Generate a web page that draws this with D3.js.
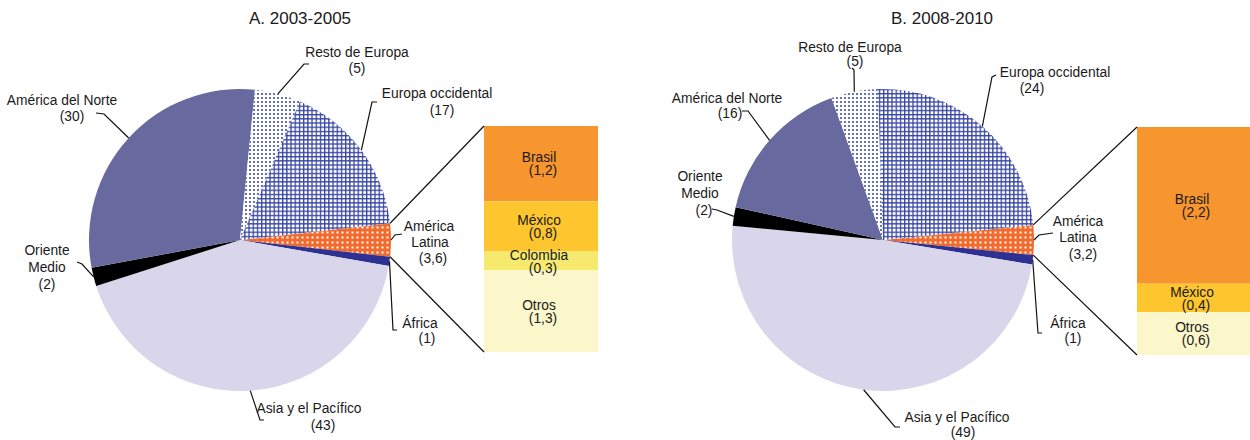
<!DOCTYPE html>
<html>
<head>
<meta charset="utf-8">
<script src="https://cdn.jsdelivr.net/npm/d3@7"></script>
<style>
  body { margin: 0; background: #fff; }
  svg text { font-family: "Liberation Sans", Arial, sans-serif; fill: #1a1a1a; }
</style>
</head>
<body>
<div id="viz"></div>
<script>
// regions, in drawing order (clockwise, starting with América Latina)
var regions = ["América Latina", "África", "Asia y el Pacífico", "Oriente Medio", "América del Norte", "Resto de Europa", "Europa occidental"];
var sharesA = [3.6, 1, 43, 2, 30, 5, 17];
var sharesB = [3.2, 1, 49, 2, 16, 5, 24];

// breakdown of América Latina
var latamA = ["Brasil", "México", "Colombia", "Otros"];
var latamValsA = [1.2, 0.8, 0.3, 1.3];
var latamB = ["Brasil", "México", "Otros"];
var latamValsB = [2.2, 0.4, 0.6];

var titles = ["A. 2003-2005", "B. 2008-2010"];

var fills = {
  "América Latina": "url(#latPat)",
  "África": "#2e3192",
  "Asia y el Pacífico": "#d9d6eb",
  "Oriente Medio": "#000000",
  "América del Norte": "#686a9f",
  "Resto de Europa": "url(#dotPat)",
  "Europa occidental": "url(#gridPat)"
};
var barColors = {"Brasil": "#f7952f", "México": "#fdc62f", "Colombia": "#f5ea6d", "Otros": "#fcf7cb"};

var fmt = function(v) { return "(" + String(v).replace(".", ",") + ")"; };

var width = 1250, height = 440;
var svg = d3.select("#viz").append("svg")
    .attr("width", width)
    .attr("height", height);

// patterns
var defs = svg.append("defs");
var p1 = defs.append("pattern").attr("id", "gridPat").attr("patternUnits", "userSpaceOnUse")
    .attr("width", 4.2).attr("height", 4.2);
p1.append("rect").attr("width", 4.2).attr("height", 4.2).attr("fill", "#fff");
p1.append("rect").attr("width", 1.3).attr("height", 4.2).attr("fill", "#3644a2");
p1.append("rect").attr("width", 4.2).attr("height", 1.3).attr("fill", "#3644a2");

var p2 = defs.append("pattern").attr("id", "dotPat").attr("patternUnits", "userSpaceOnUse")
    .attr("width", 4).attr("height", 4);
p2.append("rect").attr("width", 4).attr("height", 4).attr("fill", "#fff");
p2.append("circle").attr("cx", 2).attr("cy", 2).attr("r", 1.1).attr("fill", "#3c4fa8");

var p3 = defs.append("pattern").attr("id", "latPat").attr("patternUnits", "userSpaceOnUse")
    .attr("width", 5).attr("height", 5);
p3.append("rect").attr("width", 5).attr("height", 5).attr("fill", "#f26a2c");
p3.append("rect").attr("x", 1.5).attr("y", 1.5).attr("width", 2).attr("height", 2).attr("fill", "#fff");

// layout of each panel (label placement is by hand, as in the original)
var panels = [
  {
    title: titles[0], titleX: 300, cx: 240, cy: 240, r: 151, shares: sharesA,
    cats: latamA, vals: latamValsA, barX: 484, barW: 114, barTop: 126, barBot: 352,
    labels: {
      "América del Norte": {lines: [[62, 100], [72, 116]], hook: [[104, 114], [96, 113]]},
      "Resto de Europa": {lines: [[357, 52], [357, 68]], hook: [[304, 64], [309, 64]]},
      "Europa occidental": {lines: [[437, 93], [442, 110]], hook: [[372, 102], [377, 102]]},
      "América Latina": {lines: [[429, 226], [430, 242], [433, 258]], hook: [[395, 235], [402, 234]], split: true},
      "África": {lines: [[420, 323], [427, 338]], hook: [[393, 330], [397, 330]]},
      "Asia y el Pacífico": {lines: [[309, 408], [323, 425]], hook: [[260, 420], [264, 420]]},
      "Oriente Medio": {lines: [[47, 250], [47, 267], [47, 284]], hook: [[82, 264], [77, 262]], split: true}
    }
  },
  {
    title: titles[1], titleX: 942, cx: 883, cy: 240, r: 151, shares: sharesB,
    cats: latamB, vals: latamValsB, barX: 1137, barW: 114, barTop: 127, barBot: 355,
    labels: {
      "América del Norte": {lines: [[727, 98], [730, 113]], hook: [[748, 111], [742, 111]]},
      "Resto de Europa": {lines: [[850, 47], [855, 61]], hook: [[854, 70], [852, 68]]},
      "Europa occidental": {lines: [[1055, 72], [1032, 88]], hook: [[992, 77], [996, 75]]},
      "América Latina": {lines: [[1078, 221], [1078, 237], [1083, 254]], hook: [[1039, 235], [1053, 233]], split: true},
      "África": {lines: [[1068, 323], [1073, 338]], hook: [[1038, 333], [1042, 333]]},
      "Asia y el Pacífico": {lines: [[957, 417], [963, 432]], hook: [[895, 427], [900, 427]]},
      "Oriente Medio": {lines: [[700, 176], [700, 193], [704, 210]], hook: [[717, 210], [712, 209]], split: true}
    }
  }
];

panels.forEach(function(pn) {
  var data = regions.map(function(d, i) { return {name: d, value: pn.shares[i]}; });
  var total = d3.sum(pn.shares);
  // América Latina centred on 3 o'clock
  var half = Math.PI * pn.shares[0] / total;
  var pie = d3.pie().sort(null).value(function(d) { return d.value; })
      .startAngle(Math.PI / 2 - half).endAngle(Math.PI / 2 - half + 2 * Math.PI);
  var arcs = pie(data);
  var arc = d3.arc().innerRadius(0).outerRadius(pn.r);

  var g = svg.append("g").attr("transform", "translate(" + pn.cx + "," + pn.cy + ")");
  g.selectAll("path")
    .data(arcs)
    .enter().append("path")
      .attr("d", arc)
      .attr("fill", function(d) { return fills[d.data.name]; });

  var pt = function(a, rr) { return [pn.cx + rr * Math.sin(a), pn.cy - rr * Math.cos(a)]; };

  // leader lines and labels
  arcs.forEach(function(d) {
    var lb = pn.labels[d.data.name];
    var start = pt((d.startAngle + d.endAngle) / 2, pn.r);
    svg.append("path")
      .attr("d", d3.line()([start].concat(lb.hook)))
      .attr("fill", "none")
      .attr("stroke", "#111")
      .attr("stroke-width", 1.2);
    var words = lb.split ? d.data.name.split(" ") : [d.data.name];
    words.push(fmt(d.data.value));
    words.forEach(function(w, i) {
      svg.append("text")
        .attr("x", lb.lines[i][0])
        .attr("y", lb.lines[i][1])
        .attr("dy", "0.35em")
        .attr("text-anchor", "middle")
        .style("font-size", "13.8px")
        .text(w);
    });
  });

  // stacked bar with the América Latina breakdown
  var y = d3.scaleLinear().domain([0, d3.sum(pn.vals)]).range([pn.barTop, pn.barBot]);
  var stack = d3.cumsum(pn.vals);
  var segs = pn.cats.map(function(c, i) { return {name: c, value: pn.vals[i], y0: stack[i] - pn.vals[i], y1: stack[i]}; });

  var bar = svg.append("g");
  bar.selectAll("rect")
    .data(segs)
    .enter().append("rect")
      .attr("x", pn.barX)
      .attr("width", pn.barW)
      .attr("y", function(d) { return y(d.y0); })
      .attr("height", function(d) { return y(d.y1) - y(d.y0); })
      .attr("fill", function(d) { return barColors[d.name]; });

  segs.forEach(function(d) {
    var mid = (y(d.y0) + y(d.y1)) / 2;
    bar.append("text")
      .attr("x", pn.barX + pn.barW / 2 - 2).attr("y", mid - 6).attr("dy", "0.35em")
      .attr("text-anchor", "middle").style("font-size", "13.8px")
      .text(d.name);
    bar.append("text")
      .attr("x", pn.barX + pn.barW / 2 + 2).attr("y", mid + 7).attr("dy", "0.35em")
      .attr("text-anchor", "middle").style("font-size", "13.8px")
      .text(fmt(d.value));
  });

  // connector lines from the América Latina slice to the bar
  var lat = arcs[0];
  var a0 = pt(lat.startAngle, pn.r), a1 = pt(lat.endAngle, pn.r);
  svg.append("line").attr("x1", a0[0]).attr("y1", a0[1]).attr("x2", pn.barX).attr("y2", y.range()[0])
    .attr("stroke", "#111").attr("stroke-width", 1.2);
  svg.append("line").attr("x1", a1[0]).attr("y1", a1[1]).attr("x2", pn.barX).attr("y2", y.range()[1])
    .attr("stroke", "#111").attr("stroke-width", 1.2);

  svg.append("text")
    .attr("x", pn.titleX).attr("y", 18).attr("dy", "0.35em")
    .attr("text-anchor", "middle")
    .style("font-size", "17px")
    .text(pn.title);
});
</script>
</body>
</html>
